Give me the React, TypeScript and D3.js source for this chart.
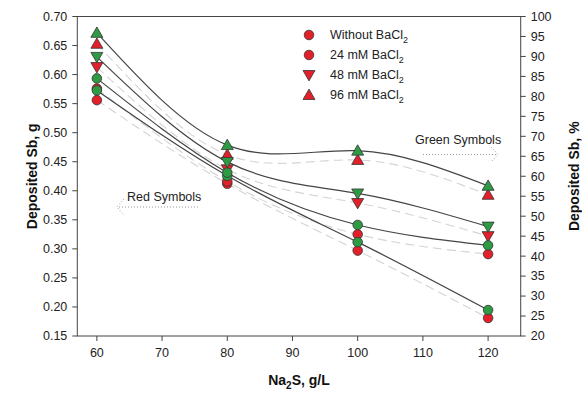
import React from "react";
import * as d3 from "d3";

const xValues = [60, 80, 100, 120];
const redWithout = [0.556, 0.412, 0.297, 0.181];
const red24 = [0.576, 0.416, 0.325, 0.291];
const red48 = [0.613, 0.437, 0.379, 0.322];
const red96 = [0.653, 0.462, 0.453, 0.393];
const greenWithout = [81.5, 60.1, 43.5, 26.5];
const green24 = [84.5, 60.9, 47.8, 42.7];
const green48 = [89.9, 63.6, 55.7, 47.4];
const green96 = [95.9, 67.8, 66.4, 57.6];
const xTicks = [60, 70, 80, 90, 100, 110, 120];
const leftTicks = [0.15, 0.2, 0.25, 0.3, 0.35, 0.4, 0.45, 0.5, 0.55, 0.6, 0.65, 0.7];
const rightTicks = [20, 25, 30, 35, 40, 45, 50, 55, 60, 65, 70, 75, 80, 85, 90, 95, 100];
const legendLabels = ["Without BaCl", "24 mM BaCl", "48 mM BaCl", "96 mM BaCl"];
const legendShapes = ["circle", "circle", "down", "up"];

const W = 582, H = 393;
const L = 77.3, R = 520.7, T = 16.5, B = 336;
const RED = "#e3202a";
const GREEN = "#2f9a44";
const FONT = "Liberation Sans, Arial, sans-serif";

export default function App() {
  const x = d3.scaleLinear().domain([57, 125]).range([L, R]);
  const yL = d3.scaleLinear().domain([0.15, 0.7]).range([B, T]);
  const yR = d3.scaleLinear().domain([20, 100]).range([B, T]);

  const reds = [
    { v: redWithout, s: "circle" },
    { v: red24, s: "circle" },
    { v: red48, s: "down" },
    { v: red96, s: "up" },
  ];
  const greens = [
    { v: greenWithout, s: "circle" },
    { v: green24, s: "circle" },
    { v: green48, s: "down" },
    { v: green96, s: "up" },
  ];

  const lineL = d3.line<number>().x((_, i) => x(xValues[i])).y((d) => yL(d)).curve(d3.curveNatural);
  const lineR = d3.line<number>().x((_, i) => x(xValues[i])).y((d) => yR(d)).curve(d3.curveNatural);

  const circ = d3.symbol().type(d3.symbolCircle).size(72)()!;
  const tri = d3.symbol().type(d3.symbolTriangle).size(62)()!;

  const marker = (shape: string, cx: number, cy: number, fill: string, key: string) => {
    const path = shape === "circle" ? circ : tri;
    const rot = shape === "down" ? " rotate(180)" : "";
    const dy = shape === "up" ? 1 : shape === "down" ? -1 : 0;
    return (
      <path key={key} d={path} transform={`translate(${cx},${cy + dy})${rot}`} fill={fill} stroke="#333" strokeWidth={0.8} />
    );
  };

  return (
    <svg width={W} height={H} style={{ display: "block", position: "absolute", left: 0, top: 0 }} fontFamily={FONT}>
      <rect x={0} y={0} width={W} height={H} fill="#fff" />
      {/* frame */}
      <rect x={L} y={T} width={R - L} height={B - T} fill="none" stroke="#444" strokeWidth={1} />
      {/* left ticks */}
      {leftTicks.map((t) => (
        <g key={"l" + t}>
          <line x1={L - 5} x2={L} y1={yL(t)} y2={yL(t)} stroke="#444" />
          <text x={L - 10} y={yL(t)} dy="0.35em" textAnchor="end" fontSize={12.5} fill="#222">
            {t.toFixed(2)}
          </text>
        </g>
      ))}
      {rightTicks.map((t) => (
        <g key={"r" + t}>
          <line x1={R} x2={R + 5} y1={yR(t)} y2={yR(t)} stroke="#444" />
          <text x={R + 10} y={yR(t)} dy="0.35em" textAnchor="start" fontSize={12.5} fill="#222">
            {t}
          </text>
        </g>
      ))}
      {xTicks.map((t) => (
        <g key={"x" + t}>
          <line x1={x(t)} x2={x(t)} y1={B} y2={B + 5} stroke="#444" />
          <text x={x(t)} y={B + 17} dy="0.35em" textAnchor="middle" fontSize={12.5} fill="#222">
            {t}
          </text>
        </g>
      ))}
      {/* axis titles */}
      <text transform={`translate(32,${(T + B) / 2}) rotate(-90)`} textAnchor="middle" dy="0.35em" fontSize={14} fontWeight="bold" fill="#111">
        Deposited Sb, g
      </text>
      <text transform={`translate(574,${(T + B) / 2}) rotate(-90)`} textAnchor="middle" dy="0.35em" fontSize={14} fontWeight="bold" fill="#111">
        Deposited Sb, %
      </text>
      <text x={(L + R) / 2} y={385} textAnchor="middle" fontSize={14} fontWeight="bold" fill="#111">
        Na<tspan fontSize={10} dy={4}>2</tspan>
        <tspan dy={-4}>S, g/L</tspan>
      </text>
      {/* lines */}
      {reds.map((r, i) => (
        <path key={"rl" + i} d={lineL(r.v)!} fill="none" stroke="#d4d4d4" strokeWidth={1.1} strokeDasharray="9,5" />
      ))}
      {greens.map((g, i) => (
        <path key={"gl" + i} d={lineR(g.v)!} fill="none" stroke="#444" strokeWidth={1.2} />
      ))}
      {/* markers */}
      {reds.map((r, i) => r.v.map((v, j) => marker(r.s, x(xValues[j]), yL(v), RED, `rm${i}-${j}`)))}
      {greens.map((g, i) => g.v.map((v, j) => marker(g.s, x(xValues[j]), yR(v), GREEN, `gm${i}-${j}`)))}
      {/* legend */}
      {legendLabels.map((lab, i) => (
        <g key={"lg" + i}>
          {marker(legendShapes[i], 309, 35 + i * 20, RED, "lgm" + i)}
          <text x={330} y={35 + i * 20} dy="0.35em" fontSize={12.5} fill="#222">
            {lab}
            <tspan fontSize={9} dy={4}>2</tspan>
          </text>
        </g>
      ))}
      {/* annotations */}
      <text x={415} y={140} dy="0.35em" fontSize={12.5} fill="#222">Green Symbols</text>
      <path d="M423,154.5 L498,154.5 M491,147 L498,154.5 L491,162" fill="none" stroke="#9a9a9a" strokeWidth={1} strokeDasharray="1,2" />
      <text x={127} y={197} dy="0.35em" fontSize={12.5} fill="#222">Red Symbols</text>
      <path d="M198,207 L117,207 M124,199 L117,207 L124,215" fill="none" stroke="#9a9a9a" strokeWidth={1} strokeDasharray="1,2" />
    </svg>
  );
}
